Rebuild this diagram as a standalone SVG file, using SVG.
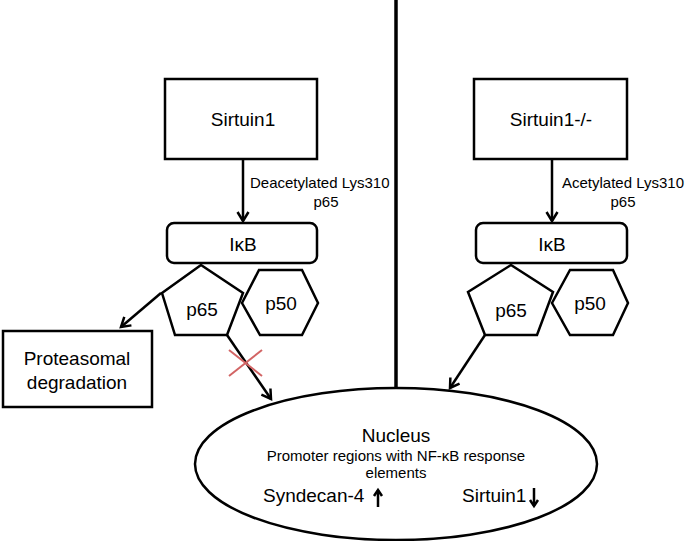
<svg xmlns="http://www.w3.org/2000/svg" width="685" height="541" viewBox="0 0 685 541">
<style>
  .shape { fill: #fff; stroke: #000; stroke-width: 2.5; }
  .conn { fill: none; stroke: #000; stroke-width: 2.5; }
  text { font-family: "Liberation Sans", Arial, sans-serif; fill: #000; }
  .big { font-size: 19px; }
  .lbl { font-size: 15px; }
  .mid { text-anchor: middle; }
</style>
<defs>
  <marker id="arr" markerUnits="userSpaceOnUse" markerWidth="16" markerHeight="16" viewBox="-12 -8 14 16" refX="0" refY="0" orient="auto">
    <path d="M-9,-5.5 L0,0 L-9,5.5" fill="none" stroke="#000" stroke-width="2.5"/>
  </marker>
  <marker id="arrs" markerUnits="userSpaceOnUse" markerWidth="12" markerHeight="12" viewBox="-8 -6 10 12" refX="0" refY="0" orient="auto">
    <path d="M-6,-4 L0,0 L-6,4" fill="none" stroke="#000" stroke-width="2.5"/>
  </marker>
</defs>

<g id="divider">
  <line x1="396" y1="0" x2="396" y2="388" stroke="#000" stroke-width="3.5"/>
</g>

<g id="sirtuin1">
  <rect class="shape" x="165" y="79" width="152" height="80"/>
  <text class="big mid" x="243" y="126">Sirtuin1</text>
</g>
<g id="sirtuin1-ko">
  <rect class="shape" x="474" y="79" width="153" height="80"/>
  <text class="big mid" x="551" y="126">Sirtuin1-/-</text>
</g>

<g id="ikb-left">
  <rect class="shape" x="167" y="223" width="150" height="40" rx="7"/>
  <text class="big mid" x="243" y="251">IκB</text>
</g>
<g id="ikb-right">
  <rect class="shape" x="476" y="223" width="151" height="40" rx="7"/>
  <text class="big mid" x="552" y="251">IκB</text>
</g>

<g id="p65-left">
  <polygon class="shape" points="201,265 243,293 227,335 175,335 162,293"/>
  <text class="big mid" x="202" y="316">p65</text>
</g>
<g id="p50-left">
  <polygon class="shape" points="242,303 259,270 302,270 318,303 302,335 260,335"/>
  <text class="big mid" x="281" y="310">p50</text>
</g>
<g id="p65-right">
  <polygon class="shape" points="511,265 553,292 537,335 485,335 468,292"/>
  <text class="big mid" x="511" y="317">p65</text>
</g>
<g id="p50-right">
  <polygon class="shape" points="552,303 570,270 613,270 628,303 613,335 570,335"/>
  <text class="big mid" x="590" y="310">p50</text>
</g>

<g id="proteasomal">
  <rect class="shape" x="3" y="331" width="149" height="76"/>
  <text class="big mid" x="77" y="365">Proteasomal</text>
  <text class="big mid" x="77" y="389">degradation</text>
</g>

<g id="nucleus">
  <ellipse class="shape" cx="396" cy="464" rx="201" ry="76"/>
  <text class="big mid" x="396" y="442">Nucleus</text>
  <text class="lbl mid" x="396" y="461">Promoter regions with NF-κB response</text>
  <text class="lbl mid" x="396" y="478">elements</text>
  <text class="big" x="263" y="502">Syndecan-4</text>
  <text class="big" x="462" y="502">Sirtuin1</text>
  <line class="conn" x1="378" y1="507" x2="378" y2="490" stroke-width="2.5" marker-end="url(#arrs)"/>
  <line class="conn" x1="534" y1="488" x2="534" y2="506" stroke-width="2.5" marker-end="url(#arrs)"/>
</g>

<g id="connectors">
  <line class="conn" x1="243" y1="159" x2="243" y2="221" marker-end="url(#arr)"/>
  <line class="conn" x1="552" y1="159" x2="552" y2="221" marker-end="url(#arr)"/>
  <line class="conn" x1="161" y1="293" x2="121" y2="327" marker-end="url(#arr)"/>
  <line class="conn" x1="227" y1="335" x2="271" y2="399" marker-end="url(#arr)"/>
  <line class="conn" x1="485" y1="335" x2="450" y2="388" marker-end="url(#arr)"/>
  <text class="lbl" x="250" y="188">Deacetylated Lys310</text>
  <text class="lbl mid" x="326" y="207">p65</text>
  <text class="lbl" x="562" y="188">Acetylated Lys310</text>
  <text class="lbl mid" x="623" y="207">p65</text>
  <g id="block" stroke="#d26464" stroke-width="2">
    <line x1="229" y1="350" x2="262" y2="376"/>
    <line x1="229" y1="376" x2="262" y2="350"/>
  </g>
</g>
</svg>
